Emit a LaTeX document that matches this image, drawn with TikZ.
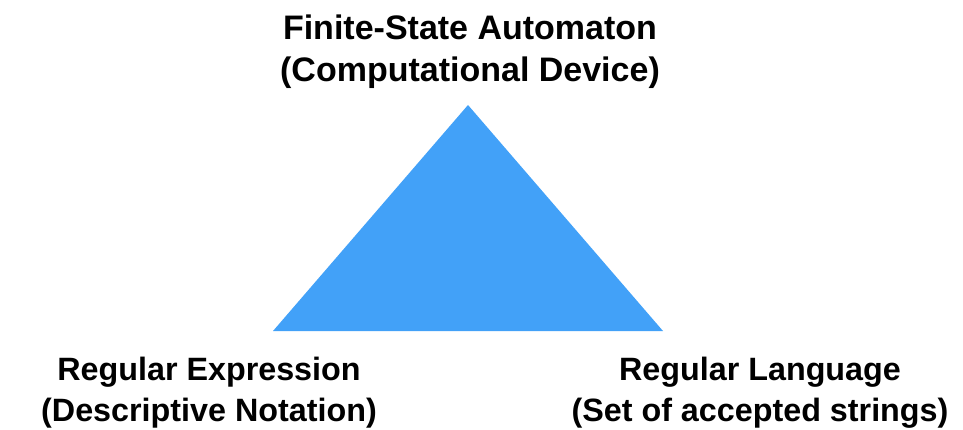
\documentclass[tikz,border=0pt]{standalone}
\usepackage{fontspec}
\setmainfont{Liberation Sans}
\usepackage{xcolor}
\usepackage{tikz}
\usetikzlibrary{positioning}

\definecolor{triblue}{RGB}{66,161,248}

\begin{document}
\begin{tikzpicture}[
    x=1pt, y=-1pt,
    corner/.style={align=center, font=\fontsize{34}{42}\selectfont\bfseries, inner sep=0pt},
    basecorner/.style={corner, font=\fontsize{32.3}{41}\selectfont\bfseries},
]
\useasboundingbox (0,0) rectangle (963,430);

% the triangle
\coordinate (apex) at (468,105);
\coordinate (bl) at (273,331);
\coordinate (br) at (663,331);
\fill[triblue] (apex) -- (bl) -- (br) -- cycle;

\node[corner] (fsa) at (470,51.5) {Finite-State Automaton\\(Computational Device)};
\node[basecorner] (regex) at (209,393) {Regular Expression\\(Descriptive Notation)};
\node[basecorner] (lang) at (760,393) {Regular Language\\(Set of accepted strings)};
\end{tikzpicture}
\end{document}
